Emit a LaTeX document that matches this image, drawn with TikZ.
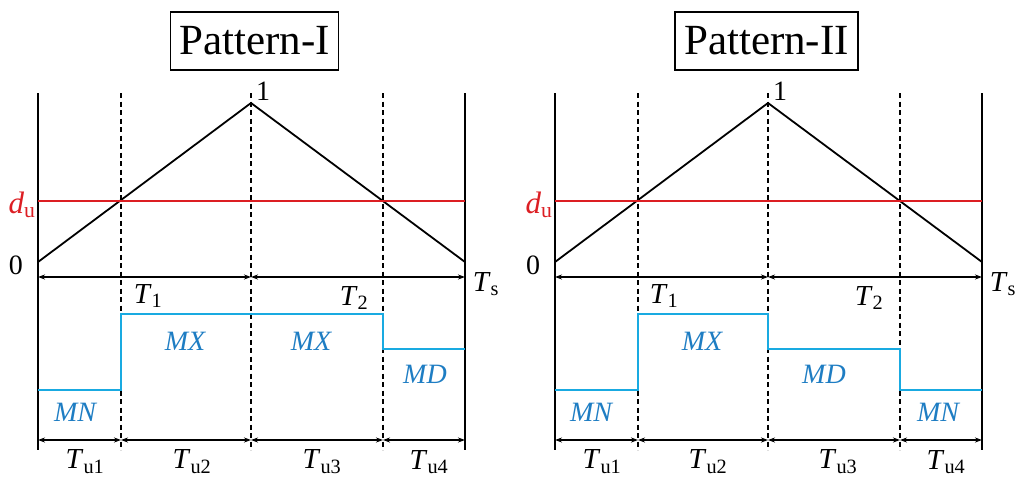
\documentclass[tikz,border=0pt]{standalone}
\usepackage{fontspec}
\setmainfont{Liberation Serif}
\usetikzlibrary{arrows.meta}
\definecolor{sigred}{RGB}{220,30,35}
\definecolor{modeblue}{RGB}{25,170,225}
\definecolor{modetext}{RGB}{30,125,195}
\tikzset{
  frame/.style={line width=2pt},
  guide/.style={line width=1.2pt, dash pattern=on 5pt off 3.5pt},
  carrier/.style={line width=1.8pt},
  duty/.style={sigred, line width=1.8pt},
  mode/.style={modeblue, line width=2.6pt},
  dimline/.style={line width=1.2pt, {Stealth[length=7pt,width=5pt]}-{Stealth[length=7pt,width=5pt]}},
  lbl/.style={inner sep=0pt, font=\fontsize{29}{32}\selectfont},
  numlbl/.style={inner sep=0pt, font=\fontsize{28}{30}\selectfont},
  modelbl/.style={inner sep=0pt, text=modetext, font=\fontsize{28}{30}\selectfont\itshape},
  titlebox/.style={draw, line width=1.5pt, inner xsep=9pt, minimum height=58pt, font=\fontsize{43}{46}\selectfont}
}
\newcommand\PanelBase[1]{%
  \coordinate (#1l0) at (38,93);  \coordinate (#1l1) at (38,450);
  \coordinate (#1r0) at (465,93); \coordinate (#1r1) at (465,450);
  \coordinate (#1a0) at (121,93); \coordinate (#1a1) at (121,450);
  \coordinate (#1b0) at (251,93); \coordinate (#1b1) at (251,450);
  \coordinate (#1c0) at (383,93); \coordinate (#1c1) at (383,450);
  \draw[frame] (#1l0) -- (#1l1);
  \draw[frame] (#1r0) -- (#1r1);
  \draw[guide] (#1a0) -- (#1a1);
  \draw[guide] (#1b0) -- (#1b1);
  \draw[guide] (#1c0) -- (#1c1);
  \coordinate (#1z) at (38,262); \coordinate (#1pk) at (251,103); \coordinate (#1e) at (465,262);
  \draw[carrier] (#1z) -- (#1pk) -- (#1e);
  \coordinate (#1d0) at (38,201); \coordinate (#1d1) at (465,201);
  \draw[duty] (#1d0) -- (#1d1);
  \node[lbl, text=sigred, font=\fontsize{31}{33}\selectfont] (#1dul) at (22,205) {\textit{d}\textsubscript{u}};
  \node[numlbl] (#1one) at (263,91) {1};
  \node[numlbl] (#1zero) at (16,265) {0};
  \coordinate (#1h0) at (38,277); \coordinate (#1h1) at (251,277); \coordinate (#1h2) at (465,277);
  \draw[dimline] (#1h0) -- (#1h1);
  \draw[dimline] (#1h1) -- (#1h2);
  \node[lbl] (#1Ts) at (486,284) {\textit{T}\textsubscript{s}};
  \coordinate (#1q0) at (38,440); \coordinate (#1q1) at (121,440); \coordinate (#1q2) at (251,440);
  \coordinate (#1q3) at (383,440); \coordinate (#1q4) at (465,440);
  \draw[dimline] (#1q0) -- (#1q1);
  \draw[dimline] (#1q1) -- (#1q2);
  \draw[dimline] (#1q2) -- (#1q3);
  \draw[dimline] (#1q3) -- (#1q4);
}
\begin{document}
\begin{tikzpicture}[x=1pt,y=-1pt]
\useasboundingbox (0,0) rectangle (1024,485);
% ---------- Pattern I ----------
\node[titlebox] (t1) at (254.5,41) {Pattern-I};
\PanelBase{A}
\draw[mode] (38,390) -- (121,390) -- (121,314) -- (383,314) -- (383,349) -- (465,349);
\node[lbl] (AT1) at (148,296) {\textit{T}\textsubscript{1}};
\node[lbl] (AT2) at (354,298) {\textit{T}\textsubscript{2}};
\node[modelbl] (Amx1) at (185,341) {MX};
\node[modelbl] (Amx2) at (311,341) {MX};
\node[modelbl] (Amd) at (425,374) {MD};
\node[modelbl] (Amn) at (75,412) {MN};
\node[lbl] (Au1) at (85,462) {\textit{T}\textsubscript{u1}};
\node[lbl] (Au2) at (192,462) {\textit{T}\textsubscript{u2}};
\node[lbl] (Au3) at (322,462) {\textit{T}\textsubscript{u3}};
\node[lbl] (Au4) at (429,462) {\textit{T}\textsubscript{u4}};
% ---------- Pattern II ----------
\node[titlebox] (t2) at (766.5,41) {Pattern-II};
\begin{scope}[shift={(517,0)}]
\PanelBase{B}
\draw[mode] (38,390) -- (121,390) -- (121,314) -- (251,314) -- (251,349) -- (383,349) -- (383,390) -- (465,390);
\end{scope}
\node[lbl] (BT1) at (664,296) {\textit{T}\textsubscript{1}};
\node[lbl] (BT2) at (869,298) {\textit{T}\textsubscript{2}};
\node[modelbl] (Bmx) at (702,341) {MX};
\node[modelbl] (Bmd) at (824,374) {MD};
\node[modelbl] (Bmn1) at (591,412) {MN};
\node[modelbl] (Bmn2) at (938,412) {MN};
\node[lbl] (Bu1) at (602,462) {\textit{T}\textsubscript{u1}};
\node[lbl] (Bu2) at (708,462) {\textit{T}\textsubscript{u2}};
\node[lbl] (Bu3) at (838,462) {\textit{T}\textsubscript{u3}};
\node[lbl] (Bu4) at (946,462) {\textit{T}\textsubscript{u4}};
\end{tikzpicture}
\end{document}
